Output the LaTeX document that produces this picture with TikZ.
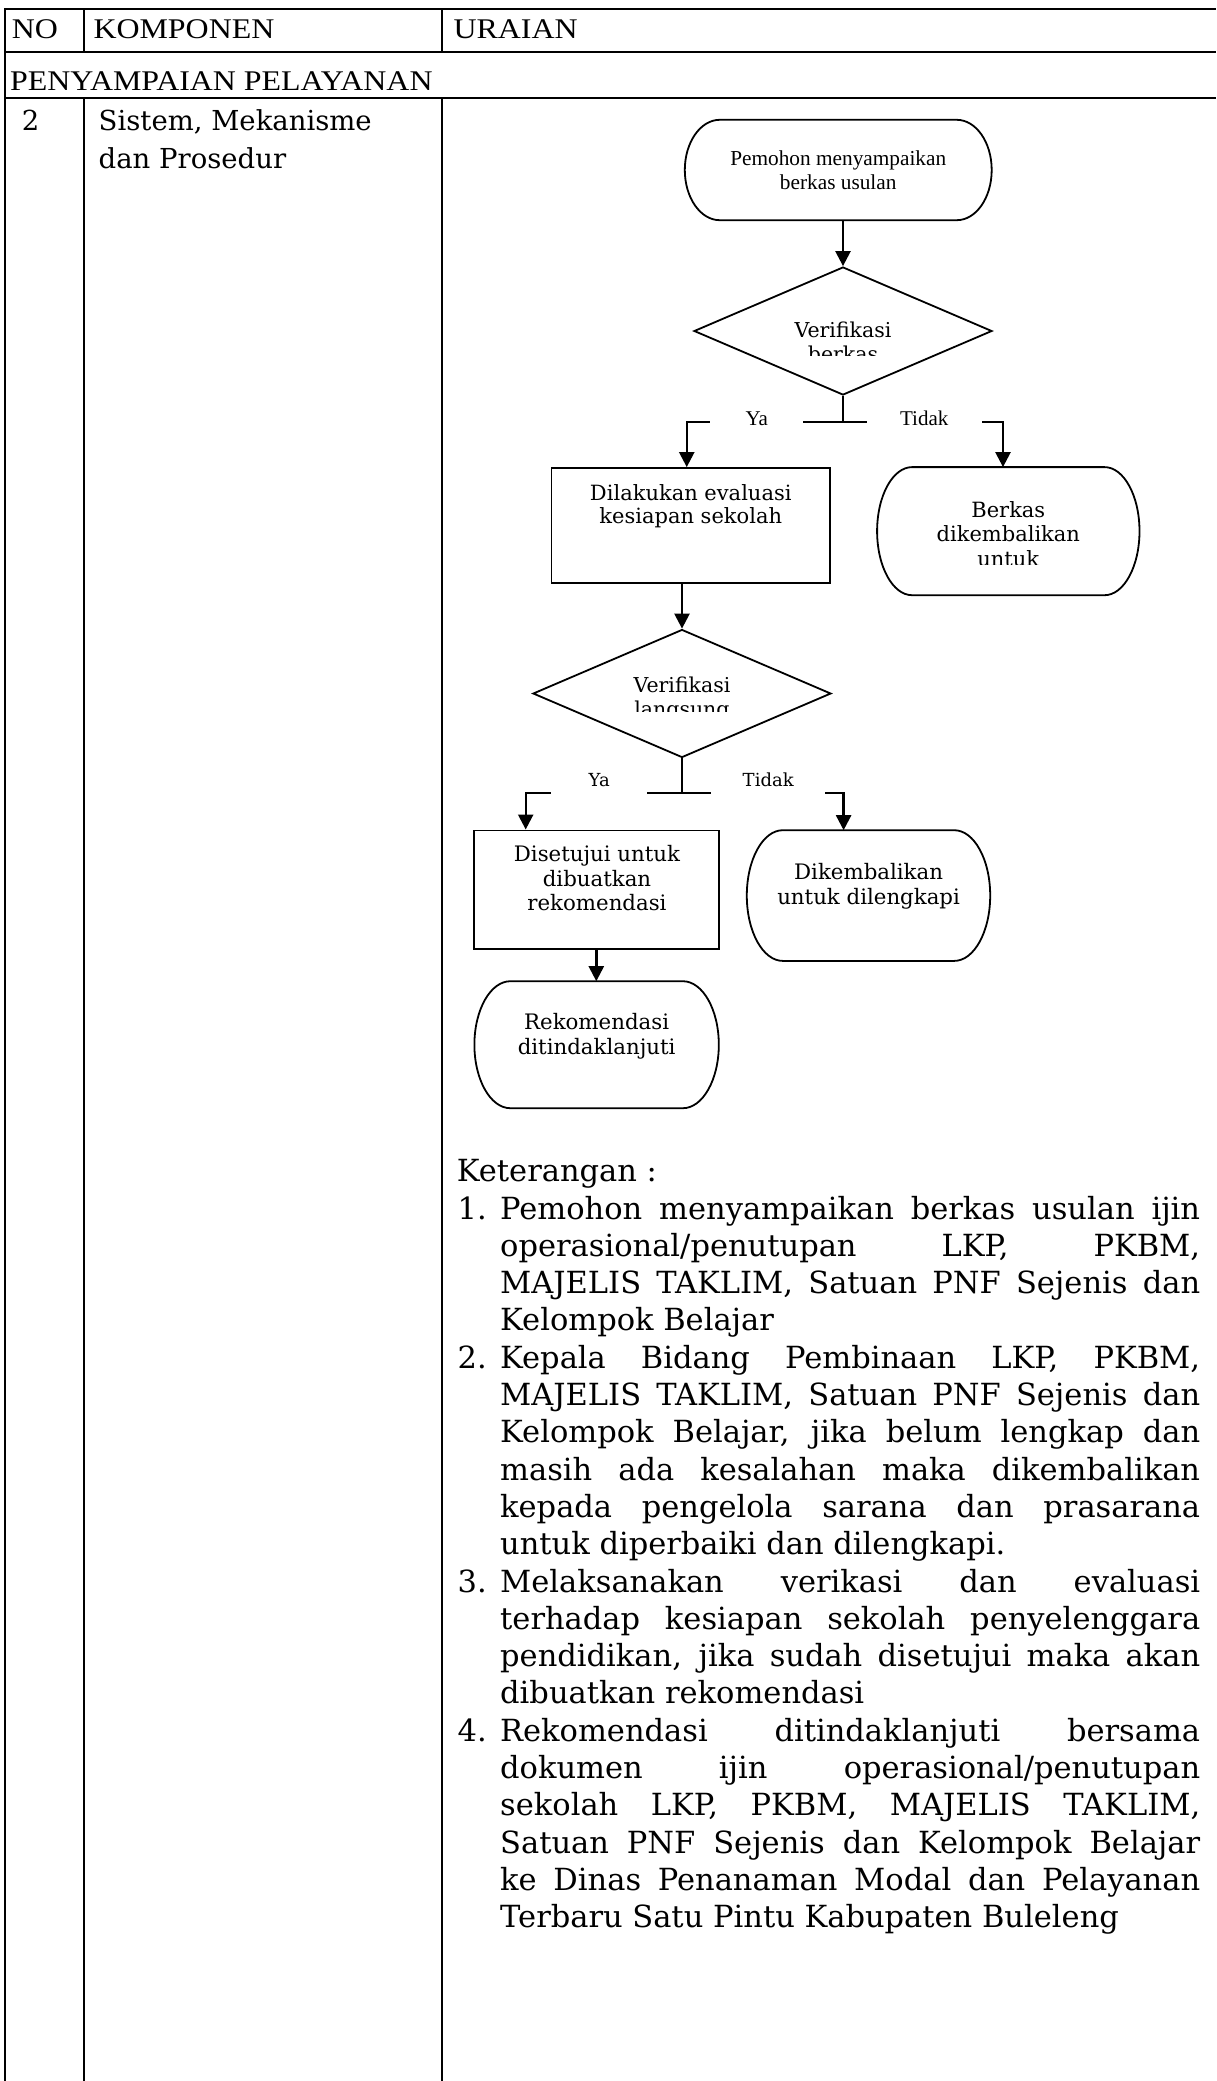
\documentclass[tikz,border=0pt]{standalone}
\usepackage{fontspec}
\setmainfont{DejaVu Serif}
\newfontfamily\tnr{Liberation Serif}
\newfontfamily\tnrw[FakeStretch=1.12]{Liberation Serif}
\newfontfamily\bkm{DejaVu Serif}
\usetikzlibrary{arrows.meta,shapes.geometric,calc}
\newcommand\ml[1]{\begin{tabular}[t]{@{}c@{}}#1\end{tabular}}
\newcommand\termdraw[2]{%
  \draw[shapeline] let \p1=(#1.north west), \p2=(#1.south east), \n1={(\y1-\y2)/2} in
    (\x1+#2pt,\y1) -- (\x2-#2pt,\y1)
    arc[start angle=90,end angle=-90,x radius=#2pt,y radius=\n1]
    -- (\x1+#2pt,\y2)
    arc[start angle=270,end angle=90,x radius=#2pt,y radius=\n1] -- cycle;}
\begin{document}
\begin{tikzpicture}[x=1pt,y=-1pt,
  tbl/.style={line width=2pt,black},
  shapeline/.style={line width=1.8pt,black},
  conn/.style={line width=2.4pt,black},
  arr/.style={conn,-{Triangle[length=15pt,width=15pt]}},
  txt/.style={inner sep=0pt,anchor=base},
  box/.style={draw=none,inner sep=0pt,rectangle},
  rbox/.style={shapeline,draw,inner sep=0pt,rectangle},
  dbox/.style={shapeline,draw,inner sep=0pt,diamond},
  lab/.style={fill=white,inner xsep=0pt,inner ysep=4pt,text depth=0pt,anchor=base},
  hd/.style={inner sep=0pt,anchor=base west,font=\tnrw\fontsize{28.5}{34}\selectfont},
  bk/.style={inner sep=0pt,anchor=base west,font=\bkm\fontsize{27.5}{38}\selectfont}]
\useasboundingbox (0,0) rectangle (1216,2081);
\fill[white] (0,0) rectangle (1216,2081);

% ---------- table ----------
\draw[tbl] (5,9) -- (1216,9);
\draw[tbl] (5,52) -- (1216,52);
\draw[tbl] (5,98.3) -- (1216,98.3);
\draw[tbl] (5,8) -- (5,2081);
\draw[tbl] (83.5,9) -- (83.5,52);
\draw[tbl] (83.5,98.3) -- (83.5,2081);
\draw[tbl] (441.5,9) -- (441.5,52);
\draw[tbl] (441.5,98.3) -- (441.5,2081);

\node[hd] (hno) at (11.7,38.5) {NO};
\node[hd] (hkomp) at (93.3,38.5) {KOMPONEN};
\node[hd] (hur) at (453.3,38.5) {URAIAN};
\node[hd] (hpen) at (10,90) {PENYAMPAIAN PELAYANAN};
\node[bk] (nodua) at (21.7,130) {2};
\node[bk] (komp1) at (98.5,130) {Sistem, Mekanisme};
\node[bk] (komp2) at (98.5,168) {dan Prosedur};

% ---------- flowchart shapes ----------
\node[box,minimum width=306.5pt,minimum height=100pt] (pemohon) at (838.25,170) {};
\termdraw{pemohon}{35}
\node[txt,font=\tnr\fontsize{21.3}{24.3}\selectfont] (pemohontxt) at (838.25,165) {\ml{Pemohon menyampaikan\\berkas usulan}};

\node[dbox,minimum width=298pt,minimum height=128pt] (d1) at (843,331) {};
\begin{scope}
\clip (650,290) rectangle (1040,355);
\node[txt,font=\bkm\fontsize{20.5}{24}\selectfont] (d1txt) at (843,337) {\ml{Verifikasi\\berkas}};
\end{scope}

\node[rbox,minimum width=278.5pt,minimum height=115pt] (dilakukan) at (690.75,525.5) {};
\node[txt,font=\bkm\fontsize{21}{23.5}\selectfont] (dilakukantxt) at (690.75,500) {\ml{Dilakukan evaluasi\\kesiapan sekolah}};

\node[box,minimum width=262pt,minimum height=127.7pt] (berkas) at (1008.3,531.15) {};
\termdraw{berkas}{35}
\begin{scope}
\clip (880,480) rectangle (1135,564);
\node[txt,font=\bkm\fontsize{21}{24.4}\selectfont] (berkastxt) at (1008.3,517.3) {\ml{Berkas\\dikembalikan\\untuk}};
\end{scope}

\node[dbox,minimum width=298pt,minimum height=128pt] (d2) at (682,693.5) {};
\begin{scope}
\clip (500,650) rectangle (870,711);
\node[txt,font=\bkm\fontsize{20.5}{24}\selectfont] (d2txt) at (682,692) {\ml{Verifikasi\\langsung}};
\end{scope}

\node[rbox,minimum width=244.6pt,minimum height=118.9pt] (disetujui) at (596.3,889.85) {};
\node[txt,font=\bkm\fontsize{21.3}{24.4}\selectfont] (disetujuitxt) at (597,861.8) {\ml{Disetujui untuk\\dibuatkan\\rekomendasi}};

\node[box,minimum width=243pt,minimum height=130.3pt] (dikembalikan) at (868.5,895.55) {};
\termdraw{dikembalikan}{36}
\node[txt,font=\bkm\fontsize{21.3}{25}\selectfont] (dikembalikantxt) at (868.6,879.6) {\ml{Dikembalikan\\untuk dilengkapi}};

\node[box,minimum width=244pt,minimum height=126.6pt] (rekomendasi) at (596.6,1044.7) {};
\termdraw{rekomendasi}{36}
\node[txt,font=\bkm\fontsize{21.3}{25}\selectfont] (rekomendasitxt) at (596.6,1029.6) {\ml{Rekomendasi\\ditindaklanjuti}};

% ---------- connectors ----------
\coordinate (t1) at (843,421.7);
\coordinate (t2) at (682,793);
\draw[arr] (pemohon.south -| d1.north) -- (d1.north);
\draw[conn] (d1.south) -- (t1);
\draw[arr] (t1) -| ([xshift=-4pt]dilakukan.north);
\draw[arr] (t1) -| ([xshift=-5.3pt]berkas.north);
\draw[arr] (dilakukan.south -| d2.north) -- (d2.north);
\draw[conn] (d2.south) -- (t2);
\draw[arr] (t2) -| ([xshift=-70.6pt]disetujui.north);
\draw[arr] (t2) -| ([xshift=-24.9pt]dikembalikan.north);
\draw[arr] (disetujui.south) -- (disetujui.south |- rekomendasi.north);

% ---------- branch labels ----------
\node[lab,minimum width=93.3pt,font=\tnr\fontsize{21}{24}\selectfont] (ya1) at (756.7,425) {Ya};
\node[lab,minimum width=115pt,font=\tnr\fontsize{21}{24}\selectfont] (tidak1) at (924.2,425) {Tidak};
\node[lab,minimum width=95.6pt,inner ysep=9pt,font=\bkm\fontsize{18}{22}\selectfont] (ya2) at (599.2,786.8) {Ya};
\node[lab,minimum width=113.6pt,inner ysep=9pt,font=\bkm\fontsize{18}{22}\selectfont] (tidak2) at (768.2,786.8) {Tidak};

% ---------- keterangan ----------
\node[txt,anchor=base west,font=\bkm\fontsize{30.5}{37.3}\selectfont] (ket) at (456.7,1181.7) {Keterangan :};
\node[txt,anchor=base west,font=\bkm\fontsize{30.5}{37.3}\selectfont] (items) at (457.5,1219) {%
\vtop{\hsize=745pt \baselineskip=37.3pt \lineskiplimit=-20pt
\hbox{\hbox to 42.5pt{1.\hss}\hbox to 700pt{Pemohon menyampaikan berkas usulan ijin}}
\hbox{\hskip42.5pt\hbox to 700pt{operasional/penutupan LKP, PKBM,}}
\hbox{\hskip42.5pt\hbox to 700pt{MAJELIS TAKLIM, Satuan PNF Sejenis dan}}
\hbox{\hskip42.5pt Kelompok Belajar}
\hbox{\hbox to 42.5pt{2.\hss}\hbox to 700pt{Kepala Bidang Pembinaan LKP, PKBM,}}
\hbox{\hskip42.5pt\hbox to 700pt{MAJELIS TAKLIM, Satuan PNF Sejenis dan}}
\hbox{\hskip42.5pt\hbox to 700pt{Kelompok Belajar, jika belum lengkap dan}}
\hbox{\hskip42.5pt\hbox to 700pt{masih ada kesalahan maka dikembalikan}}
\hbox{\hskip42.5pt\hbox to 700pt{kepada pengelola sarana dan prasarana}}
\hbox{\hskip42.5pt untuk diperbaiki dan dilengkapi.}
\hbox{\hbox to 42.5pt{3.\hss}\hbox to 700pt{Melaksanakan verikasi dan evaluasi}}
\hbox{\hskip42.5pt\hbox to 700pt{terhadap kesiapan sekolah penyelenggara}}
\hbox{\hskip42.5pt\hbox to 700pt{pendidikan, jika sudah disetujui maka akan}}
\hbox{\hskip42.5pt dibuatkan rekomendasi}
\hbox{\hbox to 42.5pt{4.\hss}\hbox to 700pt{Rekomendasi ditindaklanjuti bersama}}
\hbox{\hskip42.5pt\hbox to 700pt{dokumen ijin operasional/penutupan}}
\hbox{\hskip42.5pt\hbox to 700pt{sekolah LKP, PKBM, MAJELIS TAKLIM,}}
\hbox{\hskip42.5pt\hbox to 700pt{Satuan PNF Sejenis dan Kelompok Belajar}}
\hbox{\hskip42.5pt\hbox to 700pt{ke Dinas Penanaman Modal dan Pelayanan}}
\hbox{\hskip42.5pt Terbaru Satu Pintu Kabupaten Buleleng}}};
\end{tikzpicture}
\end{document}
